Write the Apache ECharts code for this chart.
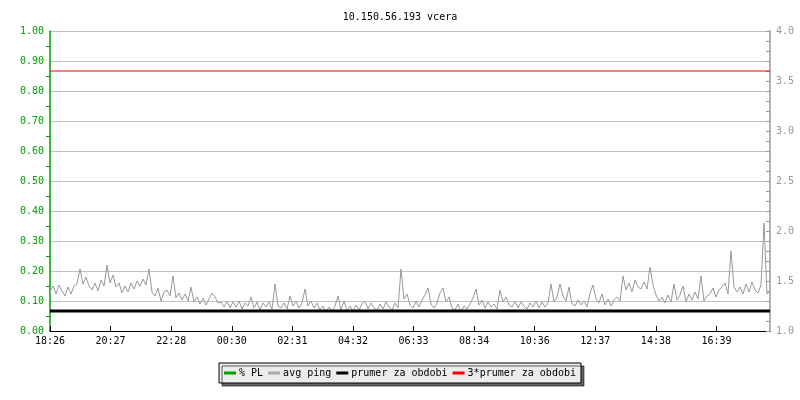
<!DOCTYPE html>
<html>
<head>
<meta charset="utf-8">
<script src="https://cdn.jsdelivr.net/npm/echarts@6/dist/echarts.min.js"></script>
<style>html,body{margin:0;padding:0;background:#fff}#c{width:800px;height:400px}</style>
</head>
<body>
<div id="c"></div>
<script>
// ---- data ----
const titleText = "10.150.56.193 vcera";
const tickLabels = ["18:26","20:27","22:28","00:30","02:31","04:32","06:33","08:34","10:36","12:37","14:38","16:39"];
const tickStepMin = 1333 / 11;       // minutes between labelled ticks
const sampleStepMin = 6;             // minutes between samples
const spanMin = 1440;
const plPct = [];                    // % PL (no losses drawn)
const avgPing = [
1.39,1.45,1.37,1.46,1.40,1.35,1.44,1.37,1.45,1.47,
1.62,1.47,1.54,1.45,1.41,1.48,1.40,1.51,1.45,1.66,
1.48,1.56,1.44,1.48,1.38,1.45,1.39,1.48,1.42,1.50,
1.45,1.52,1.46,1.62,1.39,1.35,1.43,1.30,1.39,1.41,
1.35,1.55,1.33,1.38,1.31,1.37,1.30,1.44,1.29,1.34,
1.27,1.33,1.26,1.32,1.38,1.34,1.28,1.29,1.24,1.30,
1.23,1.29,1.24,1.30,1.22,1.28,1.25,1.34,1.23,1.29,
1.21,1.28,1.24,1.29,1.22,1.47,1.25,1.23,1.28,1.22,
1.35,1.25,1.30,1.23,1.28,1.42,1.25,1.30,1.23,1.28,
1.21,1.25,1.19,1.24,1.20,1.25,1.35,1.21,1.30,1.20,
1.25,1.20,1.26,1.21,1.27,1.30,1.22,1.28,1.23,1.21,
1.27,1.22,1.29,1.24,1.21,1.28,1.23,1.62,1.32,1.37,
1.26,1.23,1.30,1.24,1.31,1.36,1.43,1.27,1.23,1.28,
1.38,1.43,1.29,1.34,1.23,1.21,1.27,1.19,1.25,1.22,
1.27,1.33,1.42,1.26,1.31,1.23,1.29,1.24,1.27,1.22,
1.41,1.29,1.34,1.26,1.24,1.30,1.23,1.29,1.25,1.22,
1.28,1.24,1.30,1.23,1.29,1.24,1.28,1.47,1.29,1.34,
1.47,1.35,1.30,1.44,1.27,1.25,1.31,1.26,1.30,1.24,
1.38,1.46,1.32,1.28,1.37,1.26,1.32,1.25,1.31,1.34,
1.30,1.55,1.41,1.48,1.39,1.51,1.44,1.42,1.49,1.42,
1.64,1.46,1.36,1.30,1.34,1.28,1.36,1.29,1.47,1.31,
1.36,1.45,1.29,1.37,1.31,1.39,1.32,1.55,1.30,1.35,
1.37,1.43,1.34,1.41,1.44,1.48,1.37,1.80,1.44,1.39,
1.44,1.37,1.47,1.39,1.49,1.41,1.38,1.46,2.08,1.37,
1.40
];
const meanPing = 1.2;
const meanFactor = 3;

// ---- chart ----
const font = "'DejaVu Sans Mono', monospace";
const pingData = avgPing.map((v, i) => [i * sampleStepMin, v]);
const meanData = [[0, meanPing], [spanMin, meanPing]];
const mean3Data = [[0, meanPing * meanFactor], [spanMin, meanPing * meanFactor]];

const chart = echarts.init(document.getElementById('c'), null, {renderer: 'canvas'});
chart.setOption({
  animation: false,
  backgroundColor: '#ffffff',
  title: {text: titleText, left: 'center', top: 7,
    textStyle: {fontFamily: font, fontSize: 10, fontWeight: 'normal', color: '#000'}},
  grid: {left: 50, right: 30, top: 31, bottom: 69},
  legend: {
    bottom: 17, left: 'center',
    data: ['% PL', 'avg ping', 'prumer za obdobi', '3*prumer za obdobi'],
    backgroundColor: '#ececec', borderColor: '#000', borderWidth: 1,
    shadowColor: 'rgba(0,0,0,0.6)', shadowOffsetX: 3, shadowOffsetY: 3, shadowBlur: 0,
    padding: [5, 5], itemGap: 5, itemWidth: 12, itemHeight: 3, icon: 'rect',
    textStyle: {fontFamily: font, fontSize: 10, color: '#000', padding: [0, 0, 0, -2]}
  },
  xAxis: {
    type: 'value', min: 0, max: spanMin, interval: tickStepMin,
    axisLine: {lineStyle: {color: '#000', width: 1}},
    axisTick: {inside: true, length: 5, lineStyle: {color: '#000'}},
    splitLine: {show: false},
    axisLabel: {fontFamily: font, fontSize: 10, color: '#000', margin: 5, showMaxLabel: false,
      formatter: v => { const k = Math.round(v / tickStepMin); return tickLabels[k] || ''; }}
  },
  yAxis: [
    {type: 'value', min: 0, max: 1, interval: 0.1,
      axisLine: {show: true, lineStyle: {color: '#00a000', width: 1.5}},
      axisTick: {show: false},
      minorTick: {show: true, splitNumber: 2, length: 4, lineStyle: {color: '#00a000'}},
      splitLine: {show: true, lineStyle: {color: '#c0c0c0', width: 1}},
      axisLabel: {fontFamily: font, fontSize: 10, color: '#00a000', margin: 6,
        formatter: v => v.toFixed(2)}},
    {type: 'value', min: 1, max: 4, interval: 0.5, position: 'right',
      axisLine: {show: true, lineStyle: {color: '#999', width: 1.5}},
      axisTick: {show: true, inside: true, length: 4, lineStyle: {color: '#999'}},
      minorTick: {show: true, splitNumber: 5, length: 4, lineStyle: {color: '#999'}},
      splitLine: {show: false},
      axisLabel: {fontFamily: font, fontSize: 10, color: '#999', margin: 6,
        formatter: v => v.toFixed(1)}}
  ],
  series: [
    {name: '% PL', type: 'line', yAxisIndex: 0, data: plPct, showSymbol: false,
      lineStyle: {color: '#00a000', width: 1.5}, itemStyle: {color: '#00a000'}},
    {name: 'avg ping', type: 'line', yAxisIndex: 1, data: pingData, showSymbol: false,
      lineStyle: {color: '#999999', width: 1}, itemStyle: {color: '#aaaaaa'}},
    {name: 'prumer za obdobi', type: 'line', yAxisIndex: 1, data: meanData, showSymbol: false,
      lineStyle: {color: '#000', width: 3}, itemStyle: {color: '#000'}},
    {name: '3*prumer za obdobi', type: 'line', yAxisIndex: 1, data: mean3Data, showSymbol: false,
      lineStyle: {color: '#ff0000', width: 1.2}, itemStyle: {color: '#ff0000'}}
  ]
});
</script>
</body>
</html>
